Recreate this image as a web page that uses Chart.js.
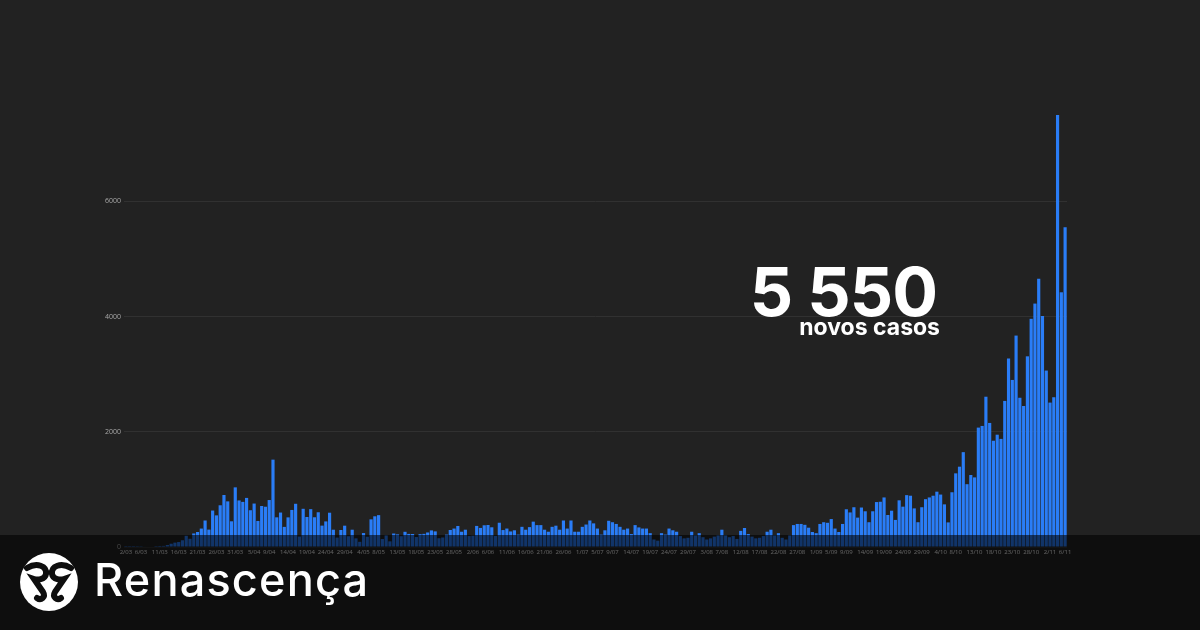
<!DOCTYPE html>
<html lang="pt">
<head>
    <meta charset="UTF-8">
    <title>Novos casos</title>
    <style>
        body {
            margin: 0;
            background-color: #222222;
            width: 1200px;
            height: 630px;
            overflow: hidden;
            position: relative;
            font-family: 'Inter', 'Lato', sans-serif;
        }
        #chart {
            position: absolute;
            left: 0;
            top: 0;
        }
        .big {
            position: absolute;
            right: 263px;
            top: 251px;
            color: #fff;
            font-weight: 700;
            font-size: 68px;
            letter-spacing: -1px;
            line-height: 80px;
        }
        .sub {
            position: absolute;
            right: 260px;
            top: 313px;
            color: #fff;
            font-weight: 700;
            font-size: 23px;
            line-height: 28px;
        }
        .band {
            position: absolute;
            left: 0;
            top: 535px;
            width: 1200px;
            height: 95px;
            background: rgba(0, 0, 0, 0.58);
        }
        .logo {
            position: absolute;
            left: 19px;
            top: 552px;
        }
        .brand {
            position: absolute;
            left: 94px;
            top: 554px;
            color: #fff;
            font-weight: 500;
            font-size: 45px;
            letter-spacing: 1.2px;
            line-height: 52px;
        }
    </style>
    <script src="https://cdn.jsdelivr.net/npm/chart.js"></script>
</head>
<body>
    <canvas id="chart" width="1200" height="630"></canvas>
    <div class="big">5 550</div>
    <div class="sub">novos casos</div>
    <div class="band"></div>
    <svg class="logo" width="60" height="60" viewBox="0 0 60 60">
        <circle cx="30" cy="30" r="29" fill="#fff"/>
        <path d="M8 16 C18 10 28 14 27 22 C26 28 18 28 15 27 L24 40 C27 45 22 49 18 46"
              fill="none" stroke="#0e0e0e" stroke-width="6" stroke-linecap="round"/>
        <path d="M52 16 C42 10 32 14 33 22 C34 28 42 28 45 27 L36 40 C33 45 38 49 42 46"
              fill="none" stroke="#0e0e0e" stroke-width="6" stroke-linecap="round"/>
    </svg>
    <div class="brand">Renascença</div>

    <script>
        // daily new cases, 2 March -> 6 November
        const mar = [2, 2, 2, 3, 4, 8, 9, 9, 2, 18, 19, 34, 57, 76, 86, 117, 194, 143, 235, 260,
                     320, 460, 302, 633, 549, 724, 902, 792, 446, 1035];
        const apr = [808, 783, 852, 638, 754, 452, 712, 699, 815, 1516, 515, 598, 349, 514, 643,
                     750, 181, 663, 521, 657, 516, 603, 371, 444, 595, 300, 163, 295, 370, 187];
        const may = [300, 150, 90, 242, 178, 480, 533, 553, 138, 200, 98, 234, 219, 187, 264, 227,
                     226, 173, 223, 228, 252, 288, 271, 152, 165, 215, 295, 320, 365, 265, 300];
        const jun = [190, 195, 366, 331, 377, 382, 342, 192, 421, 294, 320, 270, 290, 215, 350,
                     300, 345, 440, 380, 380, 300, 265, 350, 370, 300, 460, 320, 460, 265, 265];
        const jul = [350, 390, 460, 410, 320, 215, 290, 455, 430, 400, 350, 300, 320, 225, 380,
                     340, 320, 320, 240, 130, 110, 240, 215, 320, 290, 265, 190, 150, 160, 265, 200];
        const aug = [240, 170, 130, 150, 180, 200, 300, 200, 170, 190, 140, 280, 330, 225, 180,
                     150, 160, 190, 265, 300, 200, 240, 160, 130, 200, 380, 400, 400, 385, 335, 260];
        const sep = [240, 400, 430, 420, 485, 320, 260, 400, 655, 600, 690, 510, 685, 620, 430,
                     620, 780, 785, 860, 555, 630, 470, 810, 700, 900, 890, 670, 430, 690, 830];
        const oct = [860, 890, 960, 910, 740, 427, 950, 1278, 1394, 1646, 1090, 1249, 1208, 2072,
                     2101, 2608, 2153, 1844, 1949, 1876, 2535, 3270, 2899, 3669, 2590, 2447, 3309,
                     3960, 4224, 4656, 4007];
        const nov = [3062, 2506, 2599, 7497, 4420, 5550];

        const months = [['03', mar], ['04', apr], ['05', may], ['06', jun], ['07', jul],
                        ['08', aug], ['09', sep], ['10', oct], ['11', nov]];
        const firstDay = 2;

        const shownTicks = ['2/03', '6/03', '11/03', '16/03', '21/03', '26/03', '31/03', '5/04',
            '9/04', '14/04', '19/04', '24/04', '29/04', '4/05', '8/05', '13/05', '18/05', '23/05',
            '28/05', '2/06', '6/06', '11/06', '16/06', '21/06', '26/06', '1/07', '5/07', '9/07',
            '14/07', '19/07', '24/07', '29/07', '3/08', '7/08', '12/08', '17/08', '22/08', '27/08',
            '1/09', '5/09', '9/09', '14/09', '19/09', '24/09', '29/09', '4/10', '8/10', '13/10',
            '18/10', '23/10', '28/10', '2/11', '6/11'];
        const yTicks = [0, 2000, 4000, 6000];

        const labels = [];
        const cases = [];
        months.forEach(([m, vals], mi) => {
            const start = mi === 0 ? firstDay : 1;
            vals.forEach((v, i) => {
                labels.push((start + i) + '/' + m);
                cases.push(v);
            });
        });

        new Chart(document.getElementById('chart'), {
            type: 'bar',
            data: {
                labels: labels,
                datasets: [{
                    data: cases,
                    backgroundColor: '#2a7df7',
                    barPercentage: 0.84,
                    categoryPercentage: 1
                }]
            },
            options: {
                responsive: false,
                animation: false,
                devicePixelRatio: 1,
                layout: { padding: { left: 104, right: 133, top: 86, bottom: 53 } },
                plugins: { legend: { display: false }, tooltip: { enabled: false } },
                scales: {
                    x: {
                        grid: { display: false, drawTicks: false },
                        border: { display: false },
                        afterFit: s => { s.height = 30; },
                        ticks: {
                            autoSkip: false,
                            maxRotation: 0,
                            minRotation: 0,
                            padding: 2,
                            color: '#e8e8e8',
                            font: { family: 'Open Sans', size: 6 },
                            callback: (v, i) => shownTicks.includes(labels[i]) ? labels[i] : ''
                        }
                    },
                    y: {
                        min: 0,
                        max: 8000,
                        border: { display: false },
                        afterFit: s => { s.width = 20; },
                        afterBuildTicks: s => { s.ticks = yTicks.map(v => ({ value: v })); },
                        grid: {
                            drawTicks: false,
                            color: '#313131',
                            lineWidth: 1
                        },
                        ticks: {
                            padding: 3,
                            color: '#a8a8a8',
                            font: { family: 'Open Sans', size: 7 },
                            callback: v => String(v)
                        }
                    }
                }
            }
        });
    </script>
</body>
</html>
